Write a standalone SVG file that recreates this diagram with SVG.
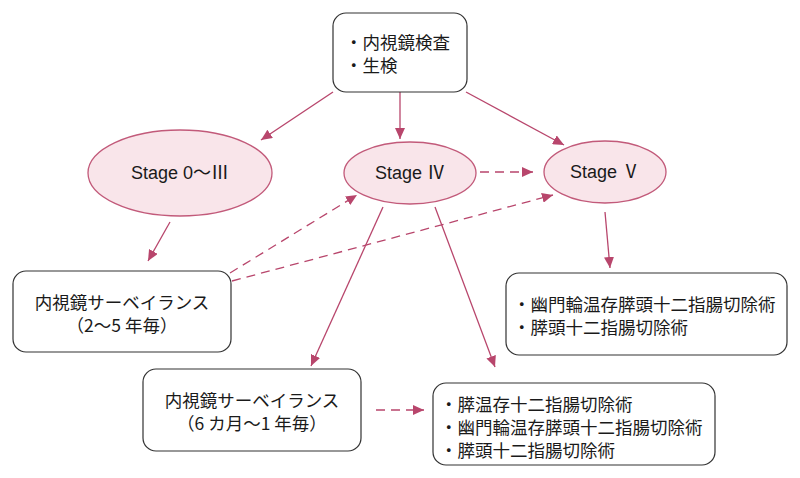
<svg xmlns="http://www.w3.org/2000/svg" width="800" height="478" viewBox="0 0 800 478">
<defs>
<marker id="ah" markerUnits="userSpaceOnUse" markerWidth="12" markerHeight="10" refX="11" refY="5" orient="auto">
<path d="M0,0 L11,5 L0,10 Z" fill="#b8466c"/>
</marker>
<style>
.box{fill:#fff;stroke:#333;stroke-width:1.2}
.ell{fill:#f9e5ea;stroke:#c25a7a;stroke-width:1.3}
.t{font-family:"Noto Sans CJK JP","Noto Sans",sans-serif;font-size:17.5px;fill:#1a1a1a}
.s{font-family:"Liberation Sans","Noto Sans CJK JP",sans-serif;font-size:18px;fill:#1a1a1a}
.c{text-anchor:middle}
.ln{fill:none;stroke:#b8466c;stroke-width:1.3;marker-end:url(#ah)}
.d{stroke-dasharray:9 6}
</style>
</defs>
<rect width="800" height="478" fill="#fff"/>
<g id="connectors">
<line class="ln" x1="333" y1="92" x2="261" y2="140"/>
<line class="ln" x1="400" y1="92" x2="400" y2="139"/>
<line class="ln" x1="466" y1="92" x2="564" y2="145"/>
<line class="ln d" x1="480" y1="172" x2="533" y2="172"/>
<line class="ln" x1="170" y1="222" x2="148" y2="261"/>
<line class="ln d" x1="230" y1="273" x2="357" y2="195"/>
<line class="ln d" x1="232" y1="281" x2="553" y2="195"/>
<line class="ln" x1="383" y1="207" x2="311" y2="366"/>
<line class="ln" x1="435" y1="207" x2="495" y2="367"/>
<line class="ln" x1="605" y1="212" x2="610" y2="268"/>
<line class="ln d" x1="376" y1="410" x2="424" y2="410"/>
</g>
<g id="exam">
<rect class="box" x="333" y="13" width="134" height="79" rx="13"/>
<text class="t" x="345" y="49">・内視鏡検査</text>
<text class="t" x="345" y="72">・生検</text>
</g>
<g id="stage03">
<ellipse class="ell" cx="180" cy="173" rx="92" ry="43"/>
<text class="s c" x="180" y="179">Stage 0～Ⅲ</text>
</g>
<g id="stage4">
<ellipse class="ell" cx="410" cy="173" rx="66" ry="31"/>
<text class="s c" x="410" y="179">Stage Ⅳ</text>
</g>
<g id="stage5">
<ellipse class="ell" cx="605" cy="172" rx="61" ry="31"/>
<text class="s c" x="605" y="178">Stage Ⅴ</text>
</g>
<g id="surv1">
<rect class="box" x="13" y="271" width="218" height="81" rx="13"/>
<text class="t c" x="122" y="309">内視鏡サーベイランス</text>
<text class="t c" x="122" y="332">（2～5 年毎）</text>
</g>
<g id="surg1">
<rect class="box" x="506" y="273" width="281" height="82" rx="13"/>
<text class="t" x="513" y="311">・幽門輪温存膵頭十二指腸切除術</text>
<text class="t" x="513" y="334">・膵頭十二指腸切除術</text>
</g>
<g id="surv2">
<rect class="box" x="143" y="369" width="218" height="82" rx="13"/>
<text class="t c" x="252" y="407">内視鏡サーベイランス</text>
<text class="t c" x="252" y="430">（6 カ月～1 年毎）</text>
</g>
<g id="surg2">
<rect class="box" x="433" y="383" width="282" height="82" rx="13"/>
<text class="t" x="440" y="411">・膵温存十二指腸切除術</text>
<text class="t" x="440" y="434">・幽門輪温存膵頭十二指腸切除術</text>
<text class="t" x="440" y="457">・膵頭十二指腸切除術</text>
</g>
</svg>
